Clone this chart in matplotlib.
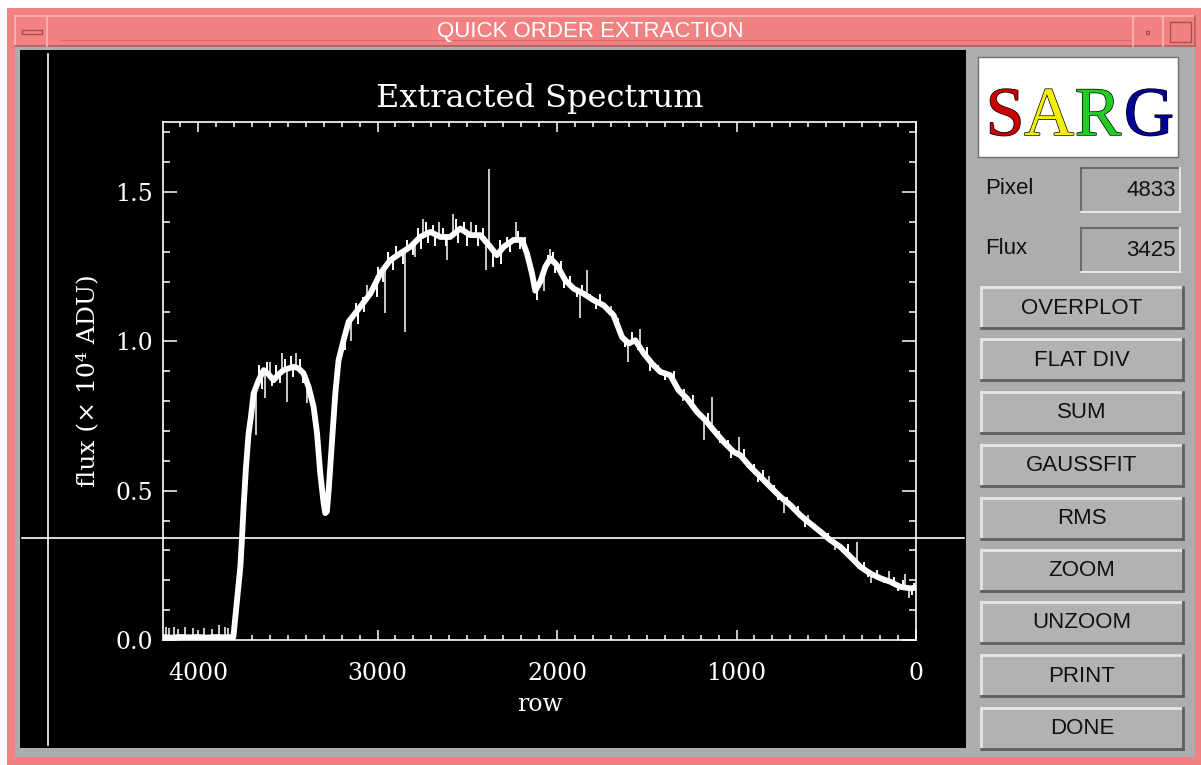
import numpy as np
import matplotlib
matplotlib.use("Agg")
import matplotlib.pyplot as plt
import matplotlib.patheffects as pe
from matplotlib.patches import Rectangle
from matplotlib.lines import Line2D
from matplotlib.ticker import MultipleLocator, FormatStrFormatter
from matplotlib.transforms import blended_transform_factory

W, H = 1201, 765

# extracted spectrum: row and flux (x 10^4 ADU)
rows = [4195, 4150, 4100, 4050, 4000, 3950, 3900, 3850, 3803, 3792, 3764,
        3755, 3746, 3733, 3718, 3705, 3690, 3662, 3634, 3607, 3579, 3551,
        3523, 3495, 3467, 3440, 3412, 3384, 3356, 3337, 3319, 3300, 3291,
        3282, 3272, 3253, 3235, 3217, 3189, 3161, 3130, 3096, 3040, 2984,
        2929, 2873, 2817, 2762, 2706, 2650, 2595, 2539, 2483, 2427, 2372,
        2335, 2297, 2242, 2195, 2167, 2139, 2121, 2093, 2065, 2037, 2000,
        1954, 1907, 1852, 1796, 1740, 1685, 1638, 1601, 1564, 1517, 1471,
        1424, 1369, 1323, 1276, 1220, 1174, 1128, 1072, 1016, 979, 923,
        867, 812, 756, 700, 645, 589, 533, 478, 422, 366, 310, 255, 199,
        143, 87, 32, 4]
flux = [0.010, 0.008, 0.010, 0.009, 0.010, 0.008, 0.010, 0.009, 0.010,
        0.077, 0.245, 0.340, 0.446, 0.576, 0.693, 0.748, 0.826, 0.870,
        0.904, 0.890, 0.870, 0.890, 0.904, 0.910, 0.915, 0.910, 0.893,
        0.848, 0.781, 0.693, 0.559, 0.458, 0.425, 0.430, 0.502, 0.670,
        0.826, 0.937, 1.004, 1.066, 1.090, 1.116, 1.160, 1.228, 1.272,
        1.295, 1.317, 1.350, 1.367, 1.350, 1.350, 1.378, 1.356, 1.356,
        1.317, 1.289, 1.317, 1.340, 1.340, 1.294, 1.227, 1.170, 1.200,
        1.250, 1.278, 1.255, 1.205, 1.177, 1.160, 1.138, 1.121, 1.088,
        1.015, 0.993, 1.004, 0.960, 0.926, 0.898, 0.887, 0.837, 0.809,
        0.764, 0.737, 0.703, 0.664, 0.630, 0.619, 0.580, 0.547, 0.513,
        0.480, 0.452, 0.418, 0.390, 0.363, 0.335, 0.312, 0.279, 0.245,
        0.223, 0.207, 0.195, 0.178, 0.173, 0.175]

# single-pixel spikes (cosmics / bad pixels): row and tip value
spike_rows = [4177, 4160, 4136, 4110, 4071, 4030, 3965, 3920, 3882, 3848,
              3832, 3677, 3629, 3600, 3530, 3504, 3455, 3393, 3150, 3060,
              2956, 2849, 2790, 2745, 2660, 2613, 2580, 2480, 2394, 2377,
              2230, 2070, 2040, 1870, 1833, 1700, 1606, 1540, 1300, 1183,
              1137, 988, 820, 736, 600, 450, 330, 250, 150, 60, 40]
spike_tops = [0.045, 0.040, 0.044, 0.038, 0.042, 0.040, 0.040, 0.038, 0.050,
              0.045, 0.040, 0.686, 0.810, 0.930, 0.960, 0.798, 0.960, 0.793,
              1.000, 1.190, 1.094, 1.030, 1.283, 1.410, 1.400, 1.272, 1.428,
              1.400, 1.239, 1.576, 1.400, 1.170, 1.310, 1.077, 1.239, 1.120,
              0.932, 1.040, 0.800, 0.670, 0.815, 0.680, 0.550, 0.424, 0.420,
              0.300, 0.329, 0.190, 0.230, 0.220, 0.140]

# pixel-to-pixel noise hairs along the band: row and tip value
hair_rows = [3690, 3660, 3645, 3615, 3590, 3565, 3545, 3515, 3480, 3470,
             3430, 3415, 3370, 3180, 3170, 3120, 3110, 3080, 3075, 3020,
             3005, 2995, 2970, 2940, 2915, 2895, 2860, 2835, 2805, 2775,
             2755, 2730, 2720, 2690, 2680, 2635, 2620, 2560, 2550, 2520,
             2500, 2450, 2440, 2410, 2355, 2320, 2310, 2280, 2260, 2215,
             2205, 2180, 2150, 2110, 2100, 2050, 2020, 2010, 1980, 1960,
             1930, 1890, 1860, 1815, 1780, 1760, 1720, 1660, 1620, 1580,
             1550, 1500, 1480, 1440, 1400, 1350, 1340, 1290, 1250, 1240,
             1200, 1160, 1100, 1090, 1050, 1030, 960, 940, 900, 880, 850,
             790, 770, 720, 680, 660, 620, 560, 510, 490, 400, 380, 340,
             290, 270, 220, 180, 120, 100, 75, 20, 10]
hair_tops = [0.80, 0.92, 0.84, 0.93, 0.85, 0.92, 0.86, 0.94, 0.95, 0.88,
             0.94, 0.86, 0.82, 0.97, 1.04, 1.13, 1.06, 1.15, 1.10, 1.20,
             1.15, 1.25, 1.20, 1.30, 1.24, 1.32, 1.26, 1.34, 1.29, 1.38,
             1.31, 1.40, 1.33, 1.39, 1.32, 1.38, 1.32, 1.41, 1.33, 1.40,
             1.32, 1.39, 1.32, 1.38, 1.25, 1.34, 1.26, 1.35, 1.30, 1.37,
             1.31, 1.35, 1.24, 1.14, 1.21, 1.29, 1.30, 1.23, 1.27, 1.18,
             1.22, 1.15, 1.19, 1.16, 1.11, 1.16, 1.10, 1.08, 0.98, 1.03,
             0.97, 0.98, 0.90, 0.92, 0.87, 0.90, 0.85, 0.84, 0.78, 0.82,
             0.74, 0.76, 0.70, 0.66, 0.67, 0.61, 0.64, 0.58, 0.59, 0.53,
             0.57, 0.52, 0.47, 0.48, 0.43, 0.45, 0.38, 0.39, 0.34, 0.36,
             0.29, 0.32, 0.26, 0.26, 0.21, 0.235, 0.19, 0.21, 0.165, 0.20,
             0.15, 0.19]

cursor_pixel = 4833
cursor_flux = 3425

buttons = ["OVERPLOT", "FLAT DIV", "SUM", "GAUSSFIT", "RMS", "ZOOM",
           "UNZOOM", "PRINT", "DONE"]
button_tops = [287, 339, 392, 445, 498, 550, 602, 655, 708]

SALMON = "#f28282"
GRAY = "#adadad"

fig = plt.figure(figsize=(W / 100, H / 100), dpi=100, facecolor="white")


def box(x0, y0, x1, y1, **kw):
    # rectangle given in screen pixels (origin top left)
    r = Rectangle((x0 / W, 1 - y1 / H), (x1 - x0) / W, (y1 - y0) / H,
                  transform=fig.transFigure, **kw)
    fig.patches.append(r)


def hline(x0, x1, y, color, lw=1.5):
    fig.lines.append(Line2D([x0 / W, x1 / W], [1 - y / H, 1 - y / H],
                            transform=fig.transFigure, color=color, lw=lw))


def vline(x, y0, y1, color, lw=1.5):
    fig.lines.append(Line2D([x / W, x / W], [1 - y0 / H, 1 - y1 / H],
                            transform=fig.transFigure, color=color, lw=lw))


def bevel(x0, y0, x1, y1, light, dark, lw=2):
    hline(x0, x1, y0, light, lw)
    vline(x0, y0, y1, light, lw)
    hline(x0, x1, y1, dark, lw)
    vline(x1, y0, y1, dark, lw)


# window frame and title bar
box(7, 8, 1201, 765, facecolor=SALMON, edgecolor="none")
bevel(15, 16, 1195, 46, "#f9b8b8", "#b35e5e", 1.2)
vline(47, 16, 46, "#f9b8b8", 1.2)
box(22, 30, 42, 34, facecolor=SALMON, edgecolor="#a85050", lw=1)
vline(1133, 16, 46, "#f9b8b8", 1.2)
vline(1163, 16, 46, "#f9b8b8", 1.2)
box(1146, 31, 1149, 34, facecolor=SALMON, edgecolor="#a85050", lw=1)
box(1170, 22, 1191, 42, facecolor=SALMON, edgecolor="#a85050", lw=1)
hline(60, 1130, 40, "#c86a6a", 0.6)
fig.text(590 / W, 1 - 32 / H, "QUICK ORDER EXTRACTION", color="white",
         ha="center", va="center", fontsize=16, family="Liberation Sans")

# window body
box(15, 47, 1195, 757, facecolor=GRAY, edgecolor="none")
box(20, 50, 966, 748, facecolor="black", edgecolor="none")

# SARG logo
box(978, 57, 1178, 157, facecolor="white", edgecolor="#707070", lw=1)
for ch, cx, col in zip("SARG", [1005, 1049, 1098, 1149],
                       ["#c80000", "#f2f000", "#22cc22", "#000099"]):
    fig.text(cx / W, 1 - 135 / H, ch, color=col, ha="center", va="baseline",
             fontsize=50, family="Liberation Serif",
             path_effects=[pe.withStroke(linewidth=1, foreground="black")])

# cursor readout
for lab, val, top in [("Pixel", cursor_pixel, 168), ("Flux", cursor_flux, 228)]:
    fig.text(985 / W, 1 - (top + 20) / H, lab, color="#111111", ha="left",
             va="center", fontsize=16, family="Liberation Sans")
    bevel(1081, top, 1180, top + 44, "#6a6a6a", "#e4e4e4", 1.5)
    fig.text(1176 / W, 1 - (top + 22) / H, str(val), color="#111111",
             ha="right", va="center", fontsize=16, family="Liberation Sans")

# buttons
for lab, top in zip(buttons, button_tops):
    box(981, top, 1183, top + 41, facecolor="#b2b2b2", edgecolor="none")
    bevel(981, top, 1183, top + 41, "#e6e6e6", "#5e5e5e", 2)
    fig.text(1082 / W, 1 - (top + 21) / H, lab, color="#111111",
             ha="center", va="center", fontsize=16, family="Liberation Sans")

# the plot itself, kept above the window decoration
ax = fig.add_axes([163 / W, 1 - 640 / H, (916 - 163) / W, (640 - 122) / H])
ax.set_zorder(10)
ax.set_facecolor("black")
ax.plot(rows, flux, color="white", lw=4.2, solid_joinstyle="round")
xp, fp = rows[::-1], flux[::-1]
ax.vlines(spike_rows, np.interp(spike_rows, xp, fp), spike_tops,
          color="white", lw=1.1)
ax.vlines(hair_rows, np.interp(hair_rows, xp, fp), hair_tops,
          color="white", lw=1.4)

ax.set_xlim(4195, 0)
ax.set_ylim(0, 1.735)
ax.xaxis.set_major_locator(MultipleLocator(1000))
ax.xaxis.set_minor_locator(MultipleLocator(100))
ax.yaxis.set_major_locator(MultipleLocator(0.5))
ax.yaxis.set_minor_locator(MultipleLocator(0.1))
ax.xaxis.set_major_formatter(FormatStrFormatter("%d"))
ax.yaxis.set_major_formatter(FormatStrFormatter("%.1f"))
for sp in ax.spines.values():
    sp.set_color("white")
    sp.set_linewidth(1.2)
ax.tick_params(which="both", direction="in", top=True, right=True,
               color="white", labelcolor="white", width=1.1)
ax.tick_params(axis="x", which="major", length=7, pad=16)
ax.tick_params(axis="x", which="minor", length=3.5)
ax.tick_params(axis="y", which="major", length=10, pad=7)
ax.tick_params(axis="y", which="minor", length=5)
for t in ax.get_xticklabels() + ax.get_yticklabels():
    t.set_family("DejaVu Serif")
    t.set_fontsize(17)

ax.text(0.5, 1.046, "Extracted Spectrum", transform=ax.transAxes,
        ha="center", va="center", color="white", fontsize=23,
        family="DejaVu Serif")
ax.set_xlabel("row", color="white", fontsize=17, family="DejaVu Serif",
              va="center")
ax.xaxis.set_label_coords(0.5, -0.125)
ax.set_ylabel("flux (\u00d7 10\u2074 ADU)", color="white", fontsize=18,
              family="DejaVu Serif", va="center")
ax.yaxis.set_label_coords(-0.1, 0.5)

# cursor crosshair spans the whole draw window
tv = blended_transform_factory(ax.transData, fig.transFigure)
ax.add_line(Line2D([cursor_pixel, cursor_pixel], [1 - 745 / H, 1 - 54 / H],
                   transform=tv, color="white", lw=1.2, clip_on=False))
th = blended_transform_factory(fig.transFigure, ax.transData)
ax.add_line(Line2D([22 / W, 964 / W], [cursor_flux / 1e4, cursor_flux / 1e4],
                   transform=th, color="white", lw=1.2, clip_on=False))

fig.savefig("out.png", dpi=100, facecolor=fig.get_facecolor())
